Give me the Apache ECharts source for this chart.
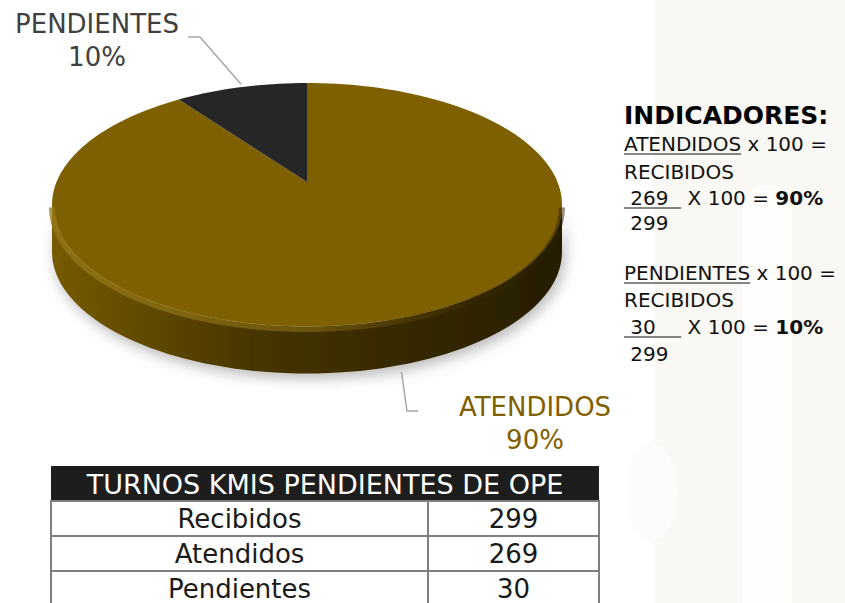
<!DOCTYPE html>
<html>
<head>
<meta charset="utf-8">
<script src="https://cdn.jsdelivr.net/npm/echarts@6/dist/echarts.min.js"></script>
<style>
  html, body { margin: 0; padding: 0; background: #fff; }
  #main { width: 845px; height: 603px; }
</style>
</head>
<body>
<div id="main"></div>
<script>
// pie data
const categories = ['ATENDIDOS', 'PENDIENTES']
const values = [269, 30]
const received = 299

// table data
const tableTitle = 'TURNOS KMIS PENDIENTES DE OPE'
const tableLabels = ['Recibidos', 'Atendidos', 'Pendientes']
const tableValues = [299, 269, 30]

const pieColors = ['#7f6000', '#262626']
const labelColors = ['#7f6000', '#404040']
const FONT = '"DejaVu Sans", sans-serif'

// 3d disc layout
const cx = 307, cy = 182
const kx = 250.5, ky = 117.5, persp = 0.187, depth = 47
const sil0 = Math.acos(-persp) * 180 / Math.PI
const sil1 = 360 - sil0

const proj = (phi, dy = 0) => {
    const r = phi * Math.PI / 180
    const X = Math.sin(r), Z = Math.cos(r)
    const w = 1 + Z * persp
    return [cx + kx * X / w, cy - ky * Z / w + dy]
}

const rim = (a0, a1, dy = 0) => {
    const pts = []
    const n = Math.max(2, Math.ceil((a1 - a0) / 2))
    for (let k = 0; k <= n; k++) {
        pts.push(proj(a0 + (a1 - a0) * k / n, dy))
    }
    return pts
}

// label placement (layout only)
const labelLayout = [
    { gap: 7, elbow: [407, 411], end: [418, 411], text: [535, 423] },
    { gap: -3, elbow: [200, 37], end: [188, 37], text: [97, 40] },
]

const total = values.reduce((a, b) => a + b, 0)

const renderItem = (params, api) => {
    const i = params.dataIndex
    let start = 0
    for (let j = 0; j < i; j++) start += values[j]
    const a0 = start / total * 360
    const a1 = (start + api.value(0)) / total * 360
    const children = []

    // side wall (front half only)
    const s0 = Math.max(a0, sil0), s1 = Math.min(a1, sil1)
    if (s1 > s0) {
        const top = rim(s0, s1)
        const bottom = rim(s0, s1, depth).reverse()
        children.push({
            type: 'polygon',
            z2: 1,
            shape: { points: top.concat(bottom) },
            style: {
                fill: {
                    type: 'linear', x: 0, y: 0, x2: 1, y2: 0,
                    colorStops: [
                        { offset: 0, color: '#765a00' },
                        { offset: 0.4, color: '#463500' },
                        { offset: 1, color: '#261c00' },
                    ],
                },
                shadowBlur: 14,
                shadowColor: 'rgba(0,0,0,0.28)',
                shadowOffsetX: 3,
                shadowOffsetY: 5,
            },
        })
        // bevel highlight along the front rim
        children.push({
            type: 'polyline',
            z2: 6,
            shape: { points: rim(s0, s1, 2.5) },
            style: {
                fill: null,
                lineWidth: 6,
                stroke: {
                    type: 'linear', x: 0, y: 0, x2: 1, y2: 0,
                    colorStops: [
                        { offset: 0, color: 'rgba(150,120,25,0.75)' },
                        { offset: 0.5, color: 'rgba(150,120,25,0.5)' },
                        { offset: 0.85, color: 'rgba(60,45,0,0.3)' },
                        { offset: 1, color: 'rgba(40,30,0,0.5)' },
                    ],
                },
            },
        })
    }

    // top face
    children.push({
        type: 'polygon',
        z2: 5,
        shape: { points: [[cx, cy]].concat(rim(a0, a1)) },
        style: { fill: pieColors[i] },
    })

    // label line + text
    const mid = (a0 + a1) / 2
    const lay = labelLayout[i]
    const front = Math.cos(mid * Math.PI / 180) < 0
    const anchor = proj(mid, front ? depth + lay.gap : lay.gap)
    children.push({
        type: 'polyline',
        z2: 10,
        shape: { points: [anchor, lay.elbow, lay.end] },
        style: { fill: null, stroke: '#a6a6a6', lineWidth: 1.5 },
    })
    const pct = Math.round(api.value(0) / total * 100) + '%'
    children.push({
        type: 'text',
        z2: 10,
        x: lay.text[0],
        y: lay.text[1],
        style: {
            text: categories[i] + '\n' + pct,
            fill: labelColors[i],
            font: '26px ' + FONT,
            align: 'center',
            verticalAlign: 'middle',
            lineHeight: 33,
        },
    })

    return { type: 'group', children }
}

// measure text for underline widths
const ctx = document.createElement('canvas').getContext('2d')
const textWidth = (t, font) => {
    ctx.font = font
    return ctx.measureText(t).width
}

const graphics = []

// faint background decoration
graphics.push({ type: 'rect', z: -10, shape: { x: 655, y: 0, width: 190, height: 603 }, style: { fill: '#faf8f4' } })
graphics.push({ type: 'rect', z: -9, shape: { x: 742, y: 185, width: 50, height: 440, r: 25 }, style: { fill: '#fefdfc' } })
graphics.push({ type: 'ellipse', z: -9, shape: { cx: 652, cy: 492, rx: 26, ry: 48 }, style: { fill: '#fdfcfa' } })

// indicator block
const blockX = 624
const regFont = '20px ' + FONT
const boldFont = 'bold 20px ' + FONT
graphics.push({
    type: 'text', x: blockX, y: 115,
    style: { text: 'INDICADORES:', font: 'bold 25px ' + FONT, fill: '#000', verticalAlign: 'middle' },
})

const pctText = v => Math.round(v / received * 100) + '%'
const formulaLines = [
    { y: 144, u: 'ATENDIDOS', rest: ' x 100 =' },
    { y: 172, u: '', rest: 'RECIBIDOS' },
    { y: 198, u: ' ' + values[0] + '  ', rest: ' X 100 = ', bold: pctText(values[0]) },
    { y: 223, u: '', rest: ' ' + received },
    { y: 273, u: 'PENDIENTES', rest: ' x 100 =' },
    { y: 300, u: '', rest: 'RECIBIDOS' },
    { y: 327, u: ' ' + values[1] + '    ', rest: ' X 100 = ', bold: pctText(values[1]) },
    { y: 354, u: '', rest: ' ' + received },
]
formulaLines.forEach(l => {
    let x = blockX
    const parts = [[l.u, regFont], [l.rest, regFont], [l.bold || '', boldFont]]
    parts.forEach(([t, f], k) => {
        if (!t) return
        graphics.push({
            type: 'text', x, y: l.y,
            style: { text: t, font: f, fill: '#111', verticalAlign: 'middle' },
        })
        const w = textWidth(t, f)
        if (k === 0) {
            graphics.push({
                type: 'line',
                shape: { x1: x, y1: l.y + 10, x2: x + w, y2: l.y + 10 },
                style: { stroke: '#111', lineWidth: 1.2 },
            })
        }
        x += w
    })
})

// table
const tX = 51, tW = 548, colX = 428, headY = 466, headH = 34, rowH = 35
graphics.push({ type: 'rect', shape: { x: tX, y: headY, width: tW, height: headH }, style: { fill: '#1d1d1d' } })
graphics.push({
    type: 'text', x: tX + tW / 2, y: headY + headH / 2 + 1,
    style: { text: tableTitle, font: '27px ' + FONT, fill: '#fff', align: 'center', verticalAlign: 'middle' },
})
tableLabels.forEach((lab, r) => {
    const y = headY + headH + 1 + r * rowH
    graphics.push({ type: 'rect', shape: { x: tX, y, width: colX - tX, height: rowH }, style: { fill: '#fff', stroke: '#7f7f7f', lineWidth: 2 } })
    graphics.push({ type: 'rect', shape: { x: colX, y, width: tX + tW - colX, height: rowH }, style: { fill: '#fff', stroke: '#7f7f7f', lineWidth: 2 } })
    graphics.push({
        type: 'text', x: (tX + colX) / 2, y: y + rowH / 2,
        style: { text: lab, font: '26px ' + FONT, fill: '#1a1a1a', align: 'center', verticalAlign: 'middle' },
    })
    graphics.push({
        type: 'text', x: (colX + tX + tW) / 2, y: y + rowH / 2,
        style: { text: String(tableValues[r]), font: '26px ' + FONT, fill: '#1a1a1a', align: 'center', verticalAlign: 'middle' },
    })
})

const chart = echarts.init(document.getElementById('main'), null, { renderer: 'svg' })
chart.setOption({
    animation: false,
    backgroundColor: '#ffffff',
    graphic: graphics,
    series: [
        {
            type: 'custom',
            coordinateSystem: 'none',
            silent: true,
            renderItem,
            data: values.map((v, i) => ({ name: categories[i], value: [v] })),
        },
    ],
})
</script>
</body>
</html>
